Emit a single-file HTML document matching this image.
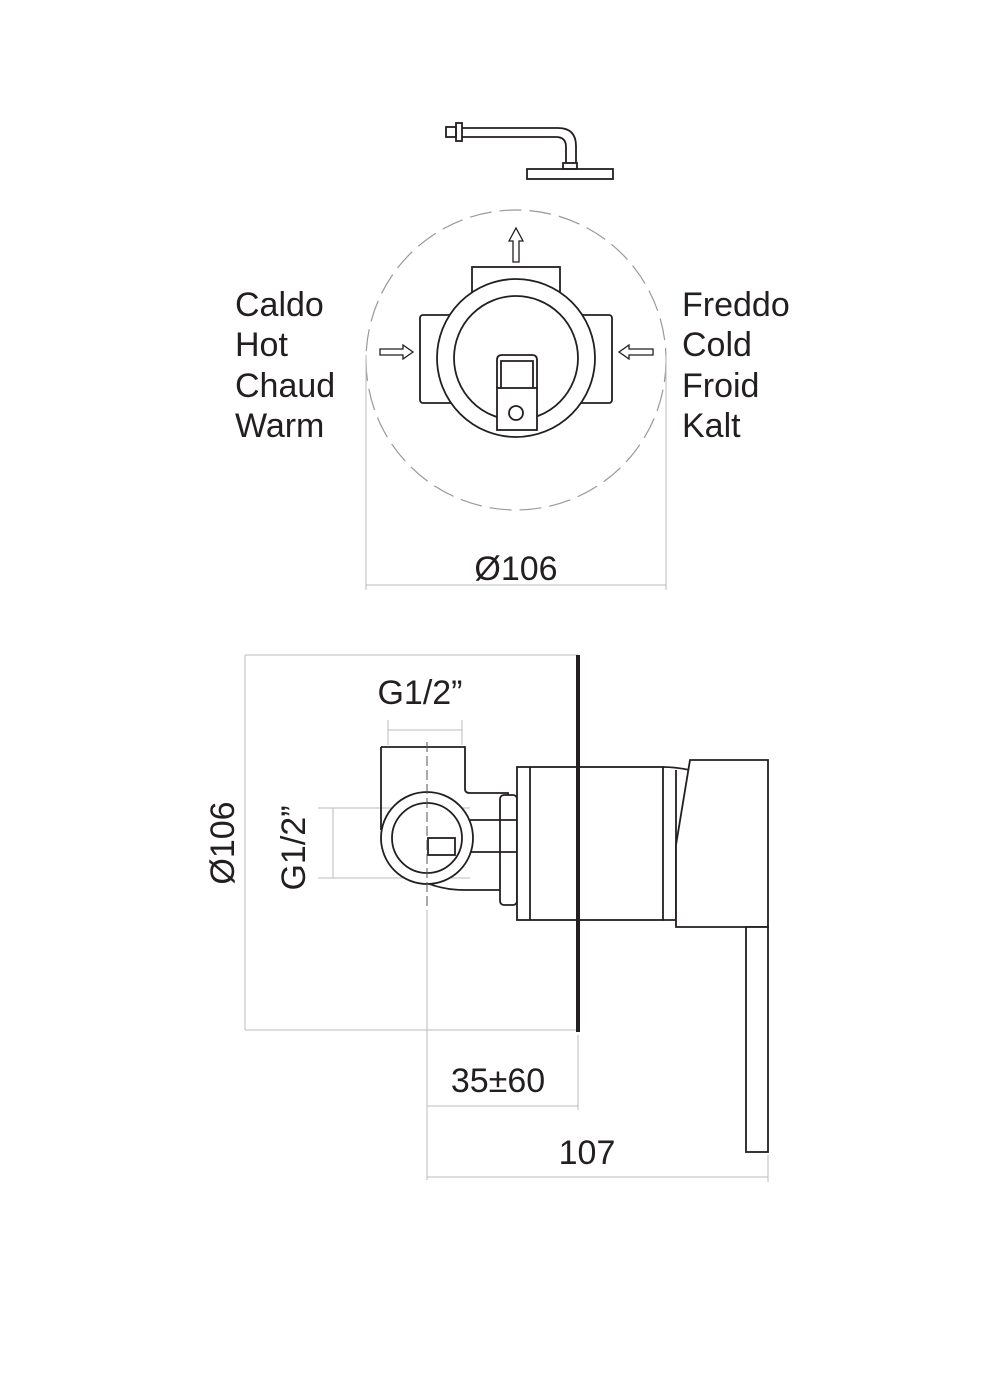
<!DOCTYPE html>
<html><head><style>body{margin:0;background:#fff}svg{display:block}text{font-family:"Liberation Sans",sans-serif;fill:#231f20}</style></head><body>
<svg width="1005" height="1373" viewBox="0 0 1005 1373" xmlns="http://www.w3.org/2000/svg">
<g fill="none" stroke="#231f20" stroke-width="1.8">
<rect x="446" y="127" width="10" height="10"/>
<rect x="456" y="123" width="6" height="18"/>
<path d="M462 128 H558 Q576 128 576 146 V163 M462 137 H556 Q566 137 566 147 V163"/>
<rect x="563" y="163" width="14" height="6"/>
<rect x="527" y="169" width="86" height="10"/>
</g>
<circle cx="516" cy="360" r="150" fill="none" stroke="#999" stroke-width="1.2" stroke-dasharray="22 8"/>
<g fill="none" stroke="#bbb" stroke-width="1">
<path d="M366 355 V590 M666 355 V590 M366 585 H666"/>
<path d="M245 655 H578 M245 1030 H578 M245 655 V1030 M333 808 V878 M318 808 H470 M318 878 H470 M388 720 V745 M462 720 V745 M388 730 H462 M427 910 V1180 M427 1106 H578 M578 1035 V1110 M427 1177 H768 M768 1155 V1182"/>
</g>
<g fill="none" stroke="#231f20" stroke-width="1.8">
<rect x="472" y="267" width="88" height="40" fill="#fff"/>
<rect x="420" y="315" width="192" height="88" rx="3" fill="#fff"/>
<circle cx="516" cy="358" r="79" fill="#fff"/>
<circle cx="516" cy="358" r="62"/>
<path d="M497 388 V360 Q497 355 502 355 H532 Q537 355 537 360 V388 M501 388 V361 H533 V388"/>
<rect x="497" y="388" width="40" height="42" fill="#fff"/>
<circle cx="516" cy="413" r="7"/>
<path d="M513 262 V241 H509 L516 228 L523 241 H519 V262 Z" stroke-width="1.3"/>
<path d="M380 349 H403 V345 L413 352 L403 359 V355 H380 Z" stroke-width="1.3"/>
<path d="M653 349 H629 V345 L619 352 L629 359 V355 H653 Z" stroke-width="1.3"/>
<path d="M381 747 H465 V789 Q465 793 470 793 H508 V890 H465 Q440 890 420 880"/>
<path d="M381 747 V830"/>
<rect x="500" y="795" width="17" height="110" rx="4" fill="#fff"/>
<path d="M470 820 H517 M470 852 H517" />
<circle cx="427" cy="838" r="46" fill="#fff"/>
<circle cx="427" cy="838" r="35"/>
<rect x="428" y="838" width="27" height="17"/>
<rect x="517" y="767" width="146" height="153" fill="#fff"/>
<path d="M530 767 V920"/>
<path d="M663 767 Q675 767 690 770 M663 920 H676"/>
<path d="M676 770 V920"/>
<path d="M690 760 H768 V927 H676 V845 Z" fill="#fff"/>
<rect x="746" y="927" width="22" height="225" fill="#fff"/>
</g>
<rect x="576" y="655" width="4" height="377" fill="#231f20"/>
<path d="M427 742 V910" stroke="#555" stroke-width="1" stroke-dasharray="10 4"/>
<g font-size="34">
<text x="235" y="316">Caldo</text><text x="235" y="356">Hot</text><text x="235" y="397">Chaud</text><text x="235" y="437">Warm</text>
<text x="682" y="316">Freddo</text><text x="682" y="356">Cold</text><text x="682" y="397">Froid</text><text x="682" y="437">Kalt</text>
<text x="516" y="580" text-anchor="middle">Ø106</text>
<text x="420" y="704" text-anchor="middle">G1/2”</text>
<text x="498" y="1092" text-anchor="middle">35±60</text>
<text x="587" y="1164" text-anchor="middle">107</text>
<text transform="translate(305,848) rotate(-90)" text-anchor="middle">G1/2”</text>
<text transform="translate(234,843) rotate(-90)" text-anchor="middle">Ø106</text>
</g>
</svg>
</body></html>
